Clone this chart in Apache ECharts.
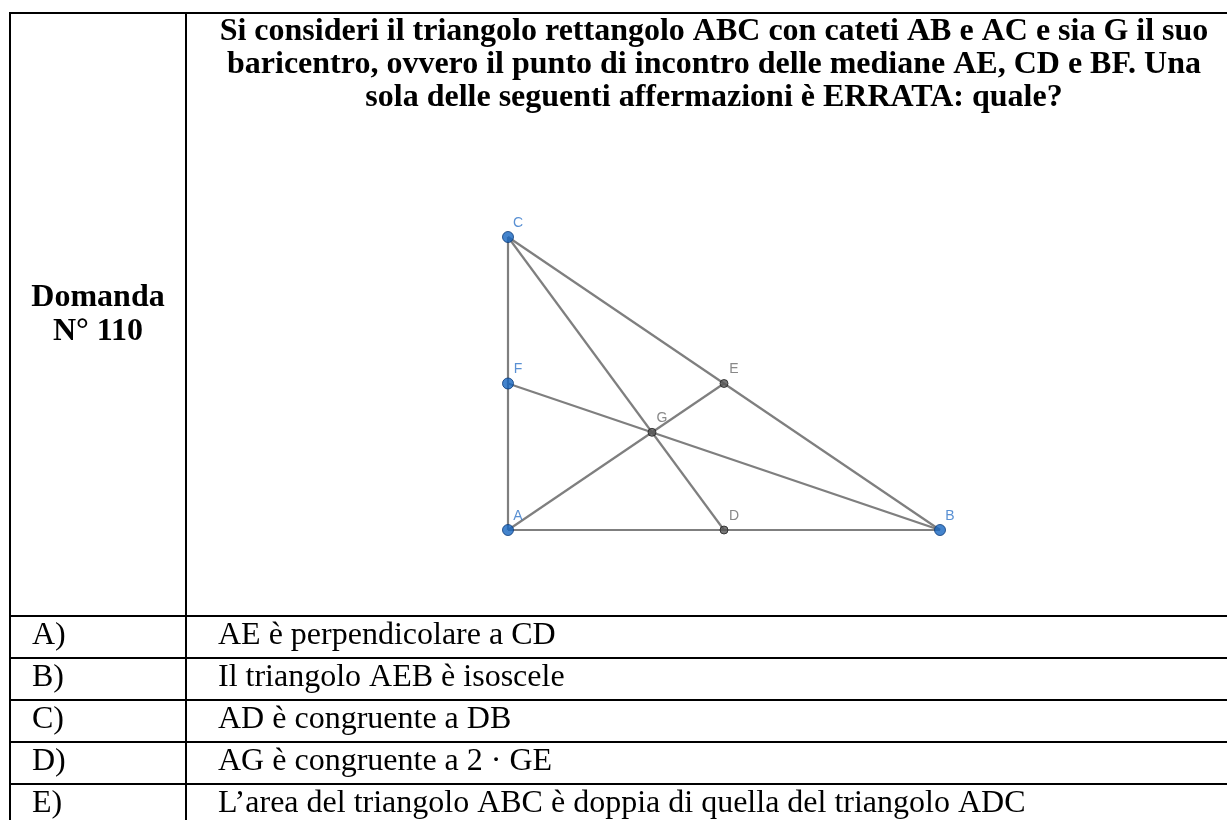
<!DOCTYPE html>
<html>
<head>
<meta charset="utf-8">
<script src="https://cdn.jsdelivr.net/npm/echarts@6/dist/echarts.min.js"></script>
<style>
html,body{margin:0;padding:0;background:#fff;}
#chart{width:1227px;height:820px;}
</style>
</head>
<body>
<div id="chart"></div>
<script>
// ---- Data ----
const headerLines = ['Domanda', 'N° 110'];
const questionLines = [
  'Si consideri il triangolo rettangolo ABC con cateti AB e AC e sia G il suo',
  'baricentro, ovvero il punto di incontro delle mediane AE, CD e BF. Una',
  'sola delle seguenti affermazioni è ERRATA: quale?'
];
const optionLetters = ['A)', 'B)', 'C)', 'D)', 'E)'];
const optionTexts = [
  'AE è perpendicolare a CD',
  'Il triangolo AEB è isoscele',
  'AD è congruente a DB',
  'AG è congruente a 2 · GE',
  'L’area del triangolo ABC è doppia di quella del triangolo ADC'
];
const pointNames = ['A', 'B', 'C', 'D', 'E', 'F', 'G'];
const pointX = [0, 6, 0, 3, 3, 0, 2];
const pointY = [0, 0, 4.07, 0, 2.035, 2.035, 1.357];
const freePoints = ['A', 'B', 'C', 'F'];
const segments = [['A', 'B'], ['A', 'C'], ['B', 'C'], ['A', 'E'], ['C', 'D'], ['B', 'F']];

// ---- Build ----
const chart = echarts.init(document.getElementById('chart'));
const idx = n => pointNames.indexOf(n);
const coord = n => [pointX[idx(n)], pointY[idx(n)]];

const serif = 'Liberation Serif';
const lineW = 2;
const graphics = [];
function hline(y, x1, x2) {
  graphics.push({type: 'line', shape: {x1: x1, y1: y, x2: x2, y2: y}, style: {stroke: '#000', lineWidth: lineW}});
}
function vline(x, y1, y2) {
  graphics.push({type: 'line', shape: {x1: x, y1: y1, x2: x, y2: y2}, style: {stroke: '#000', lineWidth: lineW}});
}
const tableTop = 13, tableLeft = 10, colDiv = 186, tableRight = 1240;
const rowTop = 616, rowH = 42;
hline(tableTop, tableLeft - 1, tableRight);
vline(tableLeft, tableTop - 1, 830);
vline(colDiv, tableTop, 830);
for (let i = 0; i < optionLetters.length; i++) hline(rowTop + i * rowH, tableLeft, tableRight);

function text(str, x, y, size, bold, align) {
  graphics.push({
    type: 'text', x: x, y: y,
    style: {text: str, fill: '#000', font: (bold ? 'bold ' : '') + size + 'px "' + serif + '"',
      textAlign: align, textVerticalAlign: 'middle'}
  });
}
questionLines.forEach((s, i) => text(s, 714, 32 + i * 33, 32, true, 'center'));
headerLines.forEach((s, i) => text(s, 98, 298 + i * 34, 32, true, 'center'));
optionLetters.forEach((s, i) => text(s, 32, rowTop + rowH / 2 + i * rowH - 1, 32, false, 'left'));
optionTexts.forEach((s, i) => text(s, 218, rowTop + rowH / 2 + i * rowH - 1, 32, false, 'left'));

const blue = '#1565c0';
const pointData = pointNames.map((n, i) => {
  const free = freePoints.indexOf(n) >= 0;
  return {
    name: n, value: [pointX[i], pointY[i]],
    symbolSize: free ? 11 : 8,
    itemStyle: {color: free ? blue : '#555555', borderColor: free ? '#0b3a78' : '#222', borderWidth: 1},
    label: {color: free ? '#2f74c8' : '#6a6a6a'}
  };
});

chart.setOption({
  animation: false,
  grid: {left: 508, top: 237, width: 432, height: 293},
  xAxis: {type: 'value', min: 0, max: 6, show: false},
  yAxis: {type: 'value', min: 0, max: 4.07, show: false},
  graphic: graphics,
  series: [
    {
      type: 'lines', coordinateSystem: 'cartesian2d', silent: true,
      lineStyle: {color: '#7f7f7f', width: 2.2, opacity: 1},
      data: segments.map(s => ({coords: [coord(s[0]), coord(s[1])]})),
      z: 2
    },
    {
      type: 'scatter', data: pointData, z: 3,
      label: {show: true, formatter: '{b}', position: 'inside', offset: [10, -14],
        fontFamily: 'Liberation Sans', fontSize: 14}
    }
  ]
});
</script>
</body>
</html>
